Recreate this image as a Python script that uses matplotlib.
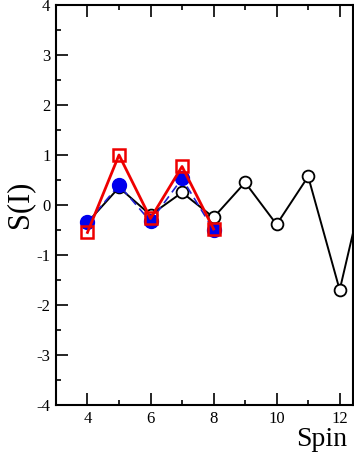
import matplotlib
matplotlib.use("Agg")
import matplotlib.pyplot as plt
from matplotlib.ticker import MultipleLocator

plt.rcParams['font.family'] = ['Liberation Serif', 'DejaVu Serif']
plt.rcParams['axes.unicode_minus'] = False

# black open circles (continues past the right edge)
spin_black = [4, 5, 6, 7, 8, 9, 10, 11, 12, 13]
s_black = [-0.35, 0.35, -0.2, 0.25, -0.25, 0.45, -0.39, 0.57, -1.7, 1.0]

# blue filled circles, dashed line
spin_blue = [4, 5, 6, 7, 8]
s_blue = [-0.35, 0.40, -0.33, 0.53, -0.5]

# red open squares
spin_red = [4, 5, 6, 7, 8]
s_red = [-0.55, 1.0, -0.27, 0.77, -0.48]

x_ticks = [4, 6, 8, 10, 12]
y_ticks = [-4, -3, -2, -1, 0, 1, 2, 3, 4]

fig = plt.figure(figsize=(3.54, 4.55), dpi=100)
ax = fig.add_axes([0.158, 0.11, 0.839, 0.879])

ax.plot(spin_black, s_black, color='black', lw=1.4, marker='o', ms=8.5,
        mfc='white', mec='black', mew=1.3, zorder=2)
ax.plot(spin_blue, s_blue, color='#2020d0', lw=1.2, ls=(0, (5, 3)), marker='o',
        ms=10, mfc='#0000ee', mec='#0000ee', zorder=3)
ax.plot(spin_red, s_red, color='#ee0000', lw=2.0, marker='s', ms=8,
        mfc='none', mec='#ee0000', mew=1.8, zorder=4)

ax.set_xlim(3, 12.42)
ax.set_ylim(-4, 4)
ax.set_xticks(x_ticks)
ax.set_yticks(y_ticks)
ax.xaxis.set_minor_locator(MultipleLocator(1))
ax.yaxis.set_minor_locator(MultipleLocator(0.5))
ax.tick_params(which='both', direction='in', top=True, right=False,
               labelsize=12, width=1.2)
ax.tick_params(which='major', length=8.5, pad=4)
ax.tick_params(which='minor', length=3.6)
for sp in ax.spines.values():
    sp.set_linewidth(1.5)

fig.text(0.055, 0.55, 'S(I)', rotation=90, fontsize=22, ha='center', va='center')
fig.text(0.909, 0.033, 'Spin', fontsize=20, ha='center', va='center')

fig.savefig('out.png', dpi=100)
